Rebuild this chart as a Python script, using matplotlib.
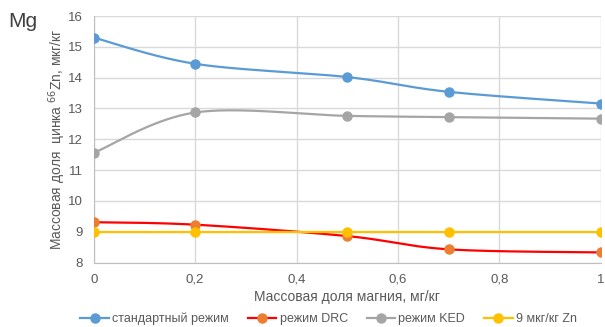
import matplotlib.pyplot as plt
import numpy as np

# Массовая доля магния, мг/кг
x = [0, 0.2, 0.5, 0.7, 1.0]
# Найденная массовая доля 66Zn, мкг/кг
standard = [15.30, 14.45, 14.02, 13.54, 13.16]
drc = [9.31, 9.23, 8.86, 8.43, 8.33]
ked = [11.56, 12.87, 12.76, 12.72, 12.67]
ref_zn = [9, 9, 9, 9, 9]

plt.rcParams['font.family'] = ['Liberation Sans', 'DejaVu Sans']


def smooth(xs, ys, n=40):
    # сглаженная линия как в Excel (кривые Безье по соседним точкам)
    xs = np.asarray(xs, float)
    ys = np.asarray(ys, float)
    px = np.concatenate([[xs[0]], xs, [xs[-1]]])
    py = np.concatenate([[ys[0]], ys, [ys[-1]]])
    out_x, out_y = [], []
    t = np.linspace(0, 1, n)
    for i in range(1, len(px) - 2):
        p0 = np.array([px[i], py[i]])
        p3 = np.array([px[i + 1], py[i + 1]])
        p1 = p0 + (np.array([px[i + 1], py[i + 1]]) - np.array([px[i - 1], py[i - 1]])) / 6
        p2 = p3 - (np.array([px[i + 2], py[i + 2]]) - np.array([px[i], py[i]])) / 6
        b = ((1 - t) ** 3)[:, None] * p0 + (3 * (1 - t) ** 2 * t)[:, None] * p1 \
            + (3 * (1 - t) * t ** 2)[:, None] * p2 + (t ** 3)[:, None] * p3
        out_x.extend(b[:, 0])
        out_y.extend(b[:, 1])
    return out_x, out_y


fig = plt.figure(figsize=(6.05, 3.27), dpi=100)
ax = fig.add_axes([0.155, 0.197, 0.838, 0.754])

series = [
    ("стандартный режим", standard, "#5B9BD5", "#5B9BD5"),
    ("режим DRC", drc, "#FF0000", "#ED7D31"),
    ("режим KED", ked, "#A5A5A5", "#A5A5A5"),
    ("9 мкг/кг Zn", ref_zn, "#FFC000", "#FFC000"),
]

for name, ys, lc, mc in series:
    sx, sy = smooth(x, ys)
    ax.plot(sx, sy, color=lc, lw=1.6, zorder=3)
    ax.plot(x, ys, 'o', color=mc, ms=6.5, zorder=4)
    ax.plot([], [], color=lc, lw=1.6, marker='o', mfc=mc, mec=mc, ms=6.5, label=name)

ax.set_xlim(0, 1)
ax.set_ylim(8, 16)
ax.set_xticks([0, 0.2, 0.4, 0.6, 0.8, 1.0])
ax.set_xticklabels(["0", "0,2", "0,4", "0,6", "0,8", "1"])
ax.set_yticks(range(8, 17))
ax.grid(True, color="#D9D9D9", lw=1)
ax.set_axisbelow(True)
for s in ["top", "right"]:
    ax.spines[s].set_visible(False)
for s in ["left", "bottom"]:
    ax.spines[s].set_color("#BFBFBF")
ax.tick_params(length=0, colors="#595959", labelsize=9.5, pad=8)

ax.set_xlabel("Массовая доля магния, мг/кг", color="#595959", fontsize=10, labelpad=3)
ax.set_ylabel("Массовая доля  цинка $^{66}$Zn, мкг/кг", color="#595959", fontsize=10, labelpad=0)

fig.text(0.013, 0.917, "Mg", fontsize=15, color="#404040")

leg = fig.legend(loc="center", bbox_to_anchor=(0.543, 0.025), ncol=4, frameon=False,
                 fontsize=9, handlelength=2.3, handletextpad=0.25, columnspacing=1.5)
for t in leg.get_texts():
    t.set_color("#595959")

fig.savefig("out.png", dpi=100)
